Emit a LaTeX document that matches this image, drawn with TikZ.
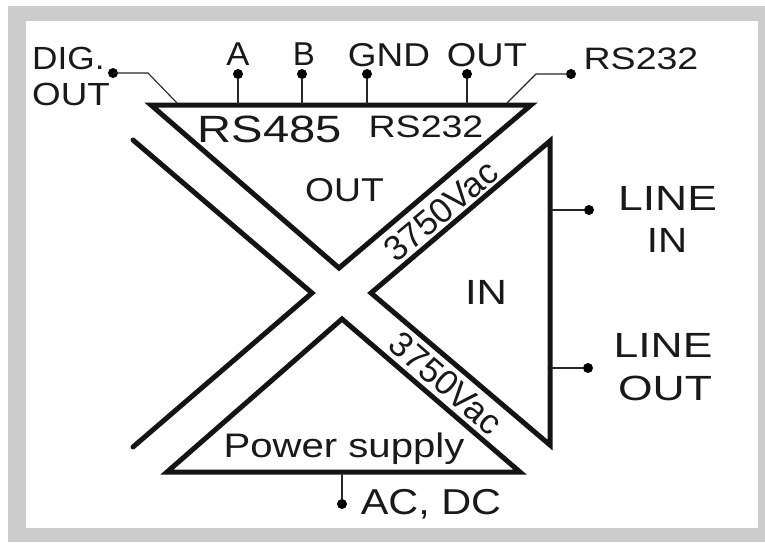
\documentclass[tikz,border=0pt]{standalone}
\usepackage{fontspec}
\setmainfont{Liberation Sans}
\tikzset{
  px/.style={x=1pt,y=-1pt},
  heavy/.style={draw=black!92,line width=5pt,line join=miter,miter limit=3},
  thin wire/.style={draw=black!85,line width=1.1pt},
  dotnode/.style={circle,fill=black,inner sep=0pt,minimum size=10pt},
  lbl/.style 2 args={inner sep=0pt,text=black!90,align=center,transform shape,xscale=#2,font=\fontsize{#1}{#1}\selectfont},
  slant lbl/.style={inner sep=0pt,text=black!90,font=\fontsize{35}{35}\selectfont}
}
\begin{document}
\begin{tikzpicture}[px]
\useasboundingbox (0,0) rectangle (765,542);
\fill[white] (0,0) rectangle (765,542);
\fill[black!20] (8,6) rectangle (765,542);
\fill[white] (26,21) rectangle (758,528);
% shapes
\draw[heavy] (339,268) -- (151,105) -- (531,105) -- cycle;
\draw[heavy,line cap=round] (133,140) -- (312,293) -- (133,447);
\draw[heavy] (550,141) -- (371,293) -- (550,445) -- cycle;
\draw[heavy] (342,319) -- (167,472) -- (520,472) -- cycle;
% terminals
\node[dotnode] (dig) at (113,73) {};
\node[dotnode] (a) at (238,74) {};
\node[dotnode] (b) at (302,74) {};
\node[dotnode] (gnd) at (367,74) {};
\node[dotnode] (out) at (467,74) {};
\node[dotnode] (rs) at (571,74) {};
\node[dotnode] (li) at (589,210) {};
\node[dotnode] (lo) at (588,368) {};
\node[dotnode] (ac) at (342,504) {};
\coordinate (digA) at (177,103);
\coordinate (aA) at (238,104);
\coordinate (bA) at (302,104);
\coordinate (gndA) at (367,104);
\coordinate (outA) at (467,104);
\coordinate (rsA) at (507,103);
\coordinate (liA) at (551,210);
\coordinate (loA) at (551,368);
\coordinate (acA) at (342,473);
\draw[thin wire] (dig.center) -- (148,73) -- (digA);
\draw[thin wire] (rs.center) -- (536,74) -- (rsA);
\draw[thin wire] (a) -- (aA);
\draw[thin wire] (b) -- (bA);
\draw[thin wire] (gnd) -- (gndA);
\draw[thin wire] (out) -- (outA);
\draw[thin wire] (li) -- (liA);
\draw[thin wire] (lo) -- (loA);
\draw[thin wire] (ac) -- (acA);
% labels
\node[lbl={32}{1.1},anchor=west] (t1) at (32,58) {DIG.};
\node[lbl={32}{1.15},anchor=west] (t2) at (32,94) {OUT};
\node[lbl={33}{1.05}] (t3) at (238,54) {A};
\node[lbl={33}{1.0}] (t4) at (304,54) {B};
\node[lbl={33}{1.12}] (t5) at (389,55) {GND};
\node[lbl={33}{1.15}] (t6) at (487,55) {OUT};
\node[lbl={31}{1.21}] (t7) at (641,59) {RS232};
\node[lbl={38}{1.24}] (t8) at (270,129) {RS485};
\node[lbl={31}{1.21}] (t9) at (426,127) {RS232};
\node[lbl={33}{1.13}] (t10) at (344.5,190) {OUT};
\node[lbl={35}{1.2}] (t11) at (486,292.5) {IN};
\node[lbl={35}{1.27}] (t12) at (667.5,198) {LINE};
\node[lbl={35}{1.15}] (t13) at (667,240) {IN};
\node[lbl={35}{1.27}] (t14) at (663,345.5) {LINE};
\node[lbl={35}{1.27}] (t15) at (665,388) {OUT};
\node[lbl={34}{1.18}] (t16) at (344,449) {Power supply};
\node[lbl={36}{1.15}] (t17) at (431,504) {AC, DC};
\node[slant lbl,rotate=-41] (t18) at (446,383) {3750Vac};
\node[slant lbl,rotate=40] (t19) at (441,211) {3750Vac};
\end{tikzpicture}
\end{document}
